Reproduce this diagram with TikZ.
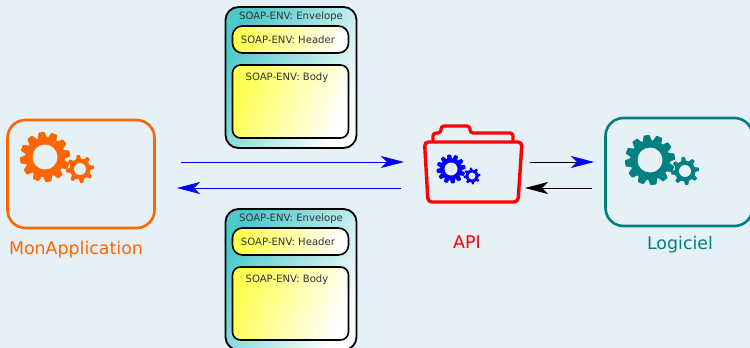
\documentclass[tikz,border=0pt]{standalone}
\usepackage{fontspec}
\setmainfont{DejaVu Sans}
\usetikzlibrary{arrows.meta}
\definecolor{fondcol}{HTML}{E5F0F7}
\definecolor{appcol}{HTML}{FF6600}
\definecolor{logcol}{HTML}{008080}
\definecolor{envcol}{HTML}{4CC9C9}
\definecolor{jaunecol}{HTML}{FFFF50}
\tikzset{
  appbox/.style={draw, line width=2.6pt, rounded corners=18pt, minimum width=147pt, minimum height=108pt},
  envbox/.style={draw=black, line width=1.8pt, rounded corners=13pt, minimum width=131pt, minimum height=141pt, left color=envcol, right color=white, shading angle=60},
  headbox/.style={draw=black, line width=1.6pt, rounded corners=10pt, minimum width=116pt, minimum height=27pt, left color=jaunecol, right color=white, shading angle=80},
  bodybox/.style={draw=black, line width=1.6pt, rounded corners=8pt, minimum width=116pt, minimum height=73pt, left color=jaunecol, right color=white, shading angle=70},
  soaptxt/.style={font=\fontsize{10.1}{12}\selectfont, text=black!80},
  lbl/.style={font=\fontsize{17.4}{20}\selectfont},
  fleche/.style={line width=0.9pt, -{Stealth[length=23pt,width=12pt,inset=6pt]}},
}
% x, y, outer radius, root radius, hole radius, colour, teeth
\newcommand{\drawgear}[7]{
  \fill[#6] (#1,#2) circle[radius=#4];
  \foreach \a in {1,...,#7}{
    \fill[#6, shift={(#1,#2)}, rotate=\a*360/#7+8, rounded corners=0.6pt]
      (-0.18*#3,#4-1) -- (-0.12*#3,#3) -- (0.12*#3,#3) -- (0.18*#3,#4-1) -- cycle;
  }
  \fill[fondcol] (#1,#2) circle[radius=#5];
}
\begin{document}
\begin{tikzpicture}[x=1pt,y=-1pt]
  \useasboundingbox (0,0) rectangle (750,348);
  \clip (0,0) rectangle (750,348);
  \fill[fondcol] (0,0) rectangle (750,348);

  % Application
  \node[appbox, draw=appcol] (app) at (81,174) {};
  \drawgear{45}{157}{25}{20}{12.5}{appcol}{12}
  \drawgear{80}{169}{14}{10.5}{6}{appcol}{8}
  \node[lbl, text=appcol] (applbl) at (76,250) {MonApplication};

  % Logiciel
  \node[appbox, draw=logcol] (log) at (679,172) {};
  \drawgear{650}{160}{25}{20}{12.5}{logcol}{12}
  \drawgear{685}{171}{14}{10.5}{6}{logcol}{8}
  \node[lbl, text=logcol] (loglbl) at (680,245) {Logiciel};

  % Enveloppes
  \foreach \nom/\dy in {haut/0, bas/202}{
    \node[envbox] (env\nom) at (291,77.5+\dy) {};
    \node[headbox] (head\nom) at (290.5,39.5+\dy) {};
    \node[bodybox] (body\nom) at (290.5,101.5+\dy) {};
    \node[soaptxt] (envtxt\nom) at (291,16.5+\dy) {SOAP-ENV: Envelope};
    \node[soaptxt] (headtxt\nom) at (288,39.5+\dy) {SOAP-ENV: Header};
    \node[soaptxt] (bodytxt\nom) at (287,77.5+\dy) {SOAP-ENV: Body};
  }

  % API
  \draw[red, line width=3.2pt, line join=round, rounded corners=3pt, fill=fondcol]
    (433,142) -- (433,133) -- (441,133) -- (441,126) -- (470,126) -- (470,133) -- (513,133) -- (513,142);
  \draw[red, line width=3.4pt, rounded corners=4pt] (424.5,142) -- (522,142) -- (518,202) -- (428,202) -- cycle;
  \drawgear{451}{169}{14.5}{11}{6.5}{blue}{12}
  \drawgear{472}{176}{8.5}{6.5}{3.5}{blue}{8}
  \node[lbl, text=red] (apilbl) at (467,242) {API};

  % Fleches
  \coordinate (appout) at (181,162);
  \coordinate (apiin) at (404,162);
  \coordinate (apiback) at (401,188);
  \coordinate (appin) at (177,188);
  \coordinate (apiout) at (530,162);
  \coordinate (login) at (594,162);
  \coordinate (logback) at (592,188);
  \coordinate (apiret) at (525,188);
  \draw[fleche, blue] (appout) -- (apiin);
  \draw[fleche, blue] (apiback) -- (appin);
  \draw[line width=0.9pt, -{Stealth[blue,length=23pt,width=12pt,inset=6pt]}] (apiout) -- (login);
  \draw[fleche, black] (logback) -- (apiret);
\end{tikzpicture}
\end{document}
